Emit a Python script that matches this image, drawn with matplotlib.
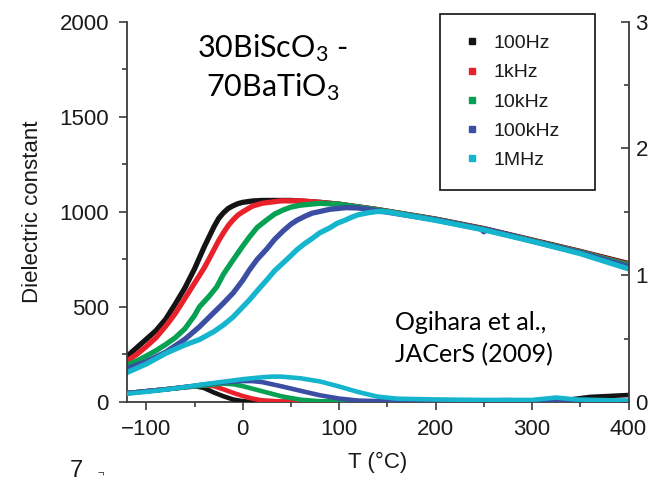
import numpy as np
import matplotlib.pyplot as plt
from matplotlib.lines import Line2D
from matplotlib.ticker import MultipleLocator

plt.rcParams['font.family'] = ['Liberation Sans', 'DejaVu Sans']
plt.rcParams['mathtext.default'] = 'regular'

# frequencies and colours
freqs = ['100Hz', '1kHz', '10kHz', '100kHz', '1MHz']
colors = ['#141414', '#e8212b', '#06a152', '#3b4ea3', '#14b5cd']

# dielectric constant (left axis)
T_eps_black = [-120, -110, -100, -90, -80, -70, -60, -50, -40, -30, -25, -20, -15, -10, -5, 0, 10, 20, 50, 80, 100, 140, 200, 250, 300, 350, 400]
eps_black = [240, 285, 330, 375, 435, 515, 600, 700, 815, 920, 965, 995, 1018, 1032, 1043, 1050, 1057, 1060, 1060, 1050, 1040, 1012, 962, 912, 852, 792, 728]

T_eps_red = [-120, -110, -100, -90, -80, -70, -60, -50, -40, -35, -30, -25, -20, -15, -10, -5, 0, 10, 20, 40, 60, 80, 100, 140, 200, 250, 300, 350, 400]
eps_red = [215, 250, 292, 338, 398, 465, 545, 625, 705, 752, 800, 848, 890, 928, 958, 983, 1000, 1030, 1045, 1058, 1058, 1050, 1040, 1011, 961, 910, 850, 790, 724]

T_eps_green = [-120, -110, -100, -90, -80, -70, -60, -50, -45, -35, -27, -20, -10, 0, 7, 15, 25, 33, 42, 50, 60, 80, 100, 140, 200, 250, 300, 350, 400]
eps_green = [195, 215, 242, 270, 302, 338, 385, 455, 500, 555, 605, 672, 747, 820, 868, 918, 958, 988, 1010, 1025, 1035, 1045, 1040, 1010, 960, 908, 848, 788, 720]

T_eps_blue = [-120, -100, -80, -60, -45, -30, -20, -10, 0, 7, 15, 25, 33, 42, 50, 56, 65, 72, 90, 107, 120, 140, 200, 247, 250, 253, 300, 350, 400]
eps_blue = [175, 212, 262, 330, 395, 470, 520, 573, 640, 695, 750, 805, 855, 900, 935, 955, 978, 993, 1013, 1022, 1020, 1006, 958, 910, 895, 907, 846, 785, 712]

T_eps_cyan = [-120, -100, -79, -60, -45, -30, -20, -10, 0, 7, 15, 25, 33, 42, 50, 56, 64, 72, 80, 90, 98, 107, 113, 120, 131, 140, 150, 200, 250, 300, 350, 400]
eps_cyan = [155, 200, 258, 300, 328, 370, 405, 447, 500, 537, 585, 642, 690, 732, 770, 800, 832, 860, 890, 915, 940, 958, 972, 985, 996, 1002, 1000, 955, 905, 845, 780, 700]

# loss tangent (right axis)
T_tan_black = [-120, -100, -80, -60, -50, -40, -30, -20, -10, 0, 10, 100, 200, 300, 340, 360, 400]
tan_black = [0.07, 0.085, 0.10, 0.118, 0.125, 0.11, 0.075, 0.045, 0.02, 0.006, 0.002, 0.002, 0.004, 0.006, 0.02, 0.04, 0.055]

T_tan_red = [-120, -100, -80, -60, -40, -30, -20, -10, 0, 10, 20, 40, 60, 200, 400]
tan_red = [0.07, 0.085, 0.10, 0.115, 0.13, 0.125, 0.10, 0.072, 0.047, 0.027, 0.013, 0.004, 0.002, 0.004, 0.005]

T_tan_green = [-120, -100, -80, -60, -40, -20, -10, 0, 20, 40, 60, 80, 120, 240, 400]
tan_green = [0.07, 0.085, 0.10, 0.115, 0.13, 0.145, 0.14, 0.125, 0.085, 0.045, 0.018, 0.006, 0.002, 0.006, 0.006]

T_tan_blue = [-120, -100, -80, -60, -40, -20, 0, 10, 20, 40, 60, 80, 100, 120, 150, 250, 275, 300, 400]
tan_blue = [0.07, 0.085, 0.10, 0.118, 0.138, 0.155, 0.165, 0.165, 0.157, 0.124, 0.088, 0.053, 0.027, 0.011, 0.005, 0.012, 0.015, 0.008, 0.008]

T_tan_cyan = [-120, -100, -80, -60, -40, -20, 0, 20, 30, 40, 60, 80, 100, 120, 140, 160, 200, 250, 300, 325, 345, 400]
tan_cyan = [0.065, 0.08, 0.097, 0.118, 0.14, 0.16, 0.18, 0.195, 0.2, 0.2, 0.187, 0.162, 0.122, 0.078, 0.042, 0.026, 0.02, 0.016, 0.016, 0.035, 0.02, 0.01]

eps_data = [(T_eps_black, eps_black), (T_eps_red, eps_red), (T_eps_green, eps_green),
            (T_eps_blue, eps_blue), (T_eps_cyan, eps_cyan)]
tan_data = [(T_tan_black, tan_black), (T_tan_red, tan_red), (T_tan_green, tan_green),
            (T_tan_blue, tan_blue), (T_tan_cyan, tan_cyan)]

spine_col = '#3c3c3c'
txt_col = '#1a1a1a'

fig = plt.figure(figsize=(6.52, 4.82), dpi=100)
ax = fig.add_axes([0.1948, 0.166, 0.7692, 0.789])
ax2 = ax.twinx()

for (t, e), c in zip(eps_data, colors):
    ax.plot(t, e, color=c, lw=3.8)
for (t, d), c in zip(tan_data, colors):
    ax2.plot(t, d, color=c, lw=3.3)

ax.set_xlim(-120, 400)
ax.set_ylim(0, 2000)
ax2.set_ylim(0, 3)

for a in (ax, ax2):
    a.spines['top'].set_visible(False)
    for s in a.spines.values():
        s.set_color(spine_col)
        s.set_linewidth(1.3)
ax.spines['right'].set_visible(False)
ax2.spines['left'].set_visible(False)
ax2.spines['bottom'].set_visible(False)

ax.xaxis.set_major_locator(MultipleLocator(100))
ax.xaxis.set_minor_locator(MultipleLocator(50))
ax.yaxis.set_major_locator(MultipleLocator(500))
ax.yaxis.set_minor_locator(MultipleLocator(250))
ax2.yaxis.set_major_locator(MultipleLocator(1))
ax2.yaxis.set_minor_locator(MultipleLocator(0.5))

ax.tick_params(which='major', direction='out', length=6, width=1.2, color=spine_col,
               labelsize=16, labelcolor=txt_col)
ax.tick_params(which='minor', direction='out', length=3.5, width=1.2, color=spine_col)
ax.tick_params(axis='y', which='major', pad=7)
ax.tick_params(axis='x', which='major', pad=6)
ax2.tick_params(which='major', direction='in', length=6, width=1.2, color=spine_col,
                labelsize=16, labelcolor=txt_col, pad=5)
ax2.tick_params(which='minor', direction='in', length=3.5, width=1.2, color=spine_col)

ax.set_xticks([-100, 0, 100, 200, 300, 400])
ax.set_xticklabels(['\u2212100', '0', '100', '200', '300', '400'])

ax.set_xlabel('T (\u00b0C)', fontsize=16, color=txt_col, labelpad=9)
ax.set_ylabel('Dielectric constant', fontsize=16, color=txt_col, labelpad=12)

handles = [Line2D([], [], ls='none', marker='s', markersize=4, color=c) for c in colors]
leg = ax.legend(handles, freqs, loc='upper left', bbox_to_anchor=(0.624, 0.576, 0.309, 0.444),
                mode='expand', fontsize=14, frameon=True, fancybox=False,
                edgecolor='#111111', framealpha=1, borderpad=1.05, labelspacing=0.6,
                handlelength=1.2, handletextpad=0.5, borderaxespad=0)
leg.get_frame().set_linewidth(1.2)
for t in leg.get_texts():
    t.set_color(txt_col)

ax.text(0.29, 0.88, '30BiScO$_3$ -\n70BaTiO$_3$', transform=ax.transAxes, fontsize=22,
        family='Lato', ha='center', va='center', linespacing=1.3, color='black')
ax.text(0.535, 0.166, 'Ogihara et al.,\nJACerS (2009)', transform=ax.transAxes, fontsize=18,
        family='Lato', ha='left', va='center', linespacing=1.45, color='black')

fig.text(0.107, 0.0, '7', fontsize=17, color=txt_col, ha='left', va='bottom')
fig.text(0.15, 0.008, '\u00ac', fontsize=8, color=txt_col, ha='left', va='bottom')

fig.savefig('out.png', dpi=100)
